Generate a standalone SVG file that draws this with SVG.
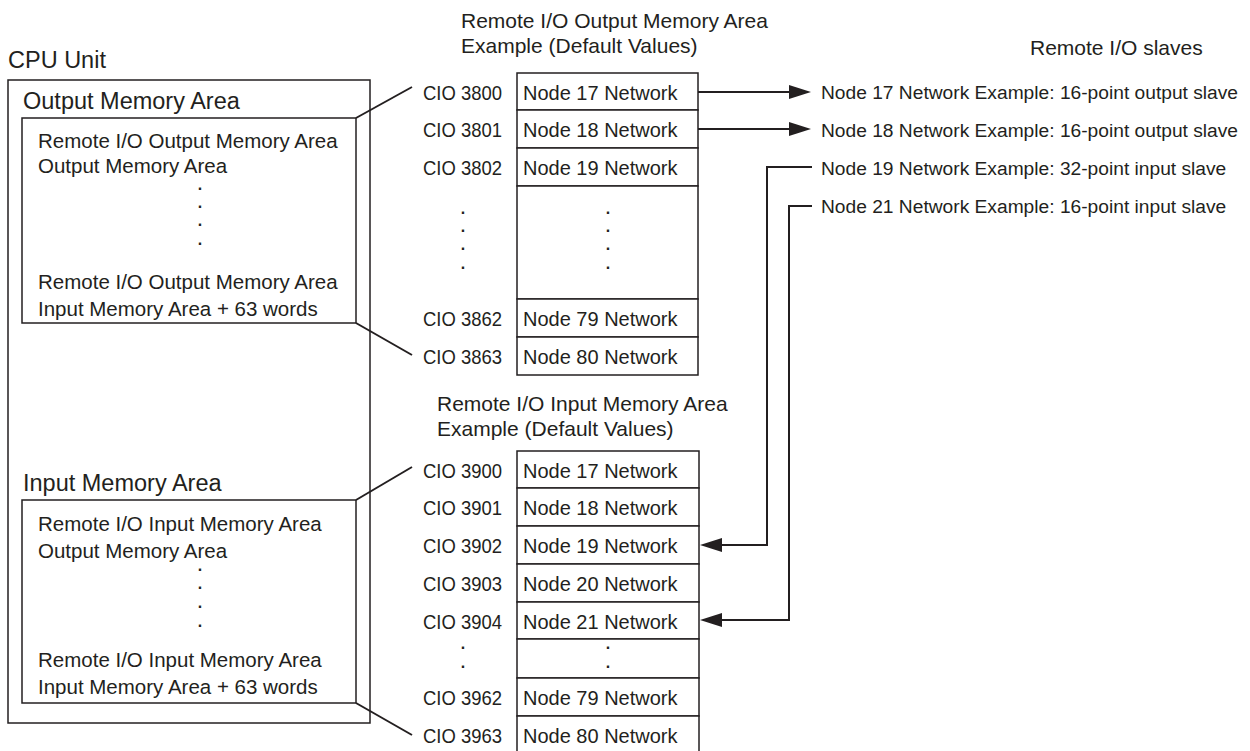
<svg xmlns="http://www.w3.org/2000/svg" width="1250" height="751" viewBox="0 0 1250 751">
<style>
text{font-family:"Liberation Sans",Arial,Helvetica,sans-serif;fill:#231f20}
.h{font-size:23.5px}
.m{font-size:20.5px}
.t{font-size:20px}
.ti{font-size:21px}
.r{font-size:19.2px}
.d{font-size:16px;font-weight:bold;text-anchor:middle}
.box{fill:none;stroke:#231f20;stroke-width:1.5}
.cell{fill:#fff;stroke:#231f20;stroke-width:1.5}
.ln{fill:none;stroke:#231f20;stroke-width:2}
</style>
<defs>
<marker id="ah" markerWidth="22" markerHeight="14" refX="11" refY="7" orient="auto" markerUnits="userSpaceOnUse">
<path d="M0,0 L22,7 L0,14 z" fill="#231f20"/>
</marker>
</defs>
<rect width="1250" height="751" fill="#fff"/>

<g id="cpu-unit">
<text class="h" x="8" y="68">CPU Unit</text>
<rect class="box" x="8" y="80" width="362" height="643"/>
</g>

<g id="output-memory-area">
<text class="h" x="23" y="109">Output Memory Area</text>
<rect class="box" x="22" y="118" width="334" height="205"/>
<text class="m" x="38" y="148">Remote I/O Output Memory Area</text>
<text class="m" x="38" y="173">Output Memory Area</text>
<text class="d" x="200" y="190">.</text>
<text class="d" x="200" y="208">.</text>
<text class="d" x="200" y="226">.</text>
<text class="d" x="200" y="245">.</text>
<text class="m" x="38" y="289">Remote I/O Output Memory Area</text>
<text class="m" x="38" y="316">Input Memory Area + 63 words</text>
</g>

<g id="input-memory-area">
<text class="h" x="23" y="491">Input Memory Area</text>
<rect class="box" x="22" y="500" width="334" height="203"/>
<text class="m" x="38" y="531">Remote I/O Input Memory Area</text>
<text class="m" x="38" y="558">Output Memory Area</text>
<text class="d" x="200" y="571">.</text>
<text class="d" x="200" y="589">.</text>
<text class="d" x="200" y="608">.</text>
<text class="d" x="200" y="627">.</text>
<text class="m" x="38" y="667">Remote I/O Input Memory Area</text>
<text class="m" x="38" y="694">Input Memory Area + 63 words</text>
</g>

<g id="output-table">
<text class="ti" x="461" y="28">Remote I/O Output Memory Area</text>
<text class="ti" x="461" y="53">Example (Default Values)</text>
<rect class="cell" x="517" y="73" width="181" height="37"/>
<rect class="cell" x="517" y="110" width="181" height="38"/>
<rect class="cell" x="517" y="148" width="181" height="38"/>
<rect class="cell" x="517" y="186" width="181" height="113"/>
<rect class="cell" x="517" y="299" width="181" height="38"/>
<rect class="cell" x="517" y="337" width="181" height="38"/>
<text class="t" x="423" y="100" textLength="79" lengthAdjust="spacingAndGlyphs">CIO 3800</text>
<text class="t" x="523" y="100">Node 17 Network</text>
<text class="t" x="423" y="137" textLength="79" lengthAdjust="spacingAndGlyphs">CIO 3801</text>
<text class="t" x="523" y="137">Node 18 Network</text>
<text class="t" x="423" y="175" textLength="79" lengthAdjust="spacingAndGlyphs">CIO 3802</text>
<text class="t" x="523" y="175">Node 19 Network</text>
<text class="d" x="463" y="214">.</text>
<text class="d" x="463" y="232">.</text>
<text class="d" x="463" y="250">.</text>
<text class="d" x="463" y="269">.</text>
<text class="d" x="608" y="214">.</text>
<text class="d" x="608" y="232">.</text>
<text class="d" x="608" y="250">.</text>
<text class="d" x="608" y="269">.</text>
<text class="t" x="423" y="326" textLength="79" lengthAdjust="spacingAndGlyphs">CIO 3862</text>
<text class="t" x="523" y="326">Node 79 Network</text>
<text class="t" x="423" y="364" textLength="79" lengthAdjust="spacingAndGlyphs">CIO 3863</text>
<text class="t" x="523" y="364">Node 80 Network</text>
</g>

<g id="input-table">
<text class="ti" x="437" y="411">Remote I/O Input Memory Area</text>
<text class="ti" x="437" y="436">Example (Default Values)</text>
<rect class="cell" x="517" y="451" width="182" height="37"/>
<rect class="cell" x="517" y="488" width="182" height="38"/>
<rect class="cell" x="517" y="526" width="182" height="38"/>
<rect class="cell" x="517" y="564" width="182" height="38"/>
<rect class="cell" x="517" y="602" width="182" height="37"/>
<rect class="cell" x="517" y="639" width="182" height="39"/>
<rect class="cell" x="517" y="678" width="182" height="38"/>
<rect class="cell" x="517" y="716" width="182" height="40"/>
<text class="t" x="423" y="478" textLength="79" lengthAdjust="spacingAndGlyphs">CIO 3900</text>
<text class="t" x="523" y="478">Node 17 Network</text>
<text class="t" x="423" y="515" textLength="79" lengthAdjust="spacingAndGlyphs">CIO 3901</text>
<text class="t" x="523" y="515">Node 18 Network</text>
<text class="t" x="423" y="553" textLength="79" lengthAdjust="spacingAndGlyphs">CIO 3902</text>
<text class="t" x="523" y="553">Node 19 Network</text>
<text class="t" x="423" y="591" textLength="79" lengthAdjust="spacingAndGlyphs">CIO 3903</text>
<text class="t" x="523" y="591">Node 20 Network</text>
<text class="t" x="423" y="629" textLength="79" lengthAdjust="spacingAndGlyphs">CIO 3904</text>
<text class="t" x="523" y="629">Node 21 Network</text>
<text class="d" x="463" y="649">.</text>
<text class="d" x="463" y="668">.</text>
<text class="d" x="608" y="649">.</text>
<text class="d" x="608" y="668">.</text>
<text class="t" x="423" y="705" textLength="79" lengthAdjust="spacingAndGlyphs">CIO 3962</text>
<text class="t" x="523" y="705">Node 79 Network</text>
<text class="t" x="423" y="743" textLength="79" lengthAdjust="spacingAndGlyphs">CIO 3963</text>
<text class="t" x="523" y="743">Node 80 Network</text>
</g>

<g id="remote-io-slaves">
<text class="ti" x="1030" y="55">Remote I/O slaves</text>
<text class="r" x="821" y="99">Node 17 Network Example: 16-point output slave</text>
<text class="r" x="821" y="137">Node 18 Network Example: 16-point output slave</text>
<text class="r" x="821" y="175">Node 19 Network Example: 32-point input slave</text>
<text class="r" x="821" y="213">Node 21 Network Example: 16-point input slave</text>
</g>

<g id="connectors">
<line class="ln" x1="356" y1="118" x2="412" y2="87"/>
<line class="ln" x1="356" y1="323" x2="412" y2="355"/>
<line class="ln" x1="356" y1="500" x2="412" y2="467"/>
<line class="ln" x1="356" y1="703" x2="412" y2="735"/>
<line class="ln" x1="698" y1="92" x2="800" y2="92" marker-end="url(#ah)"/>
<line class="ln" x1="698" y1="129" x2="800" y2="129" marker-end="url(#ah)"/>
<polyline class="ln" points="812,167 767,167 767,545 711,545" marker-end="url(#ah)"/>
<polyline class="ln" points="812,206 789,206 789,620 711,620" marker-end="url(#ah)"/>
</g>
</svg>
